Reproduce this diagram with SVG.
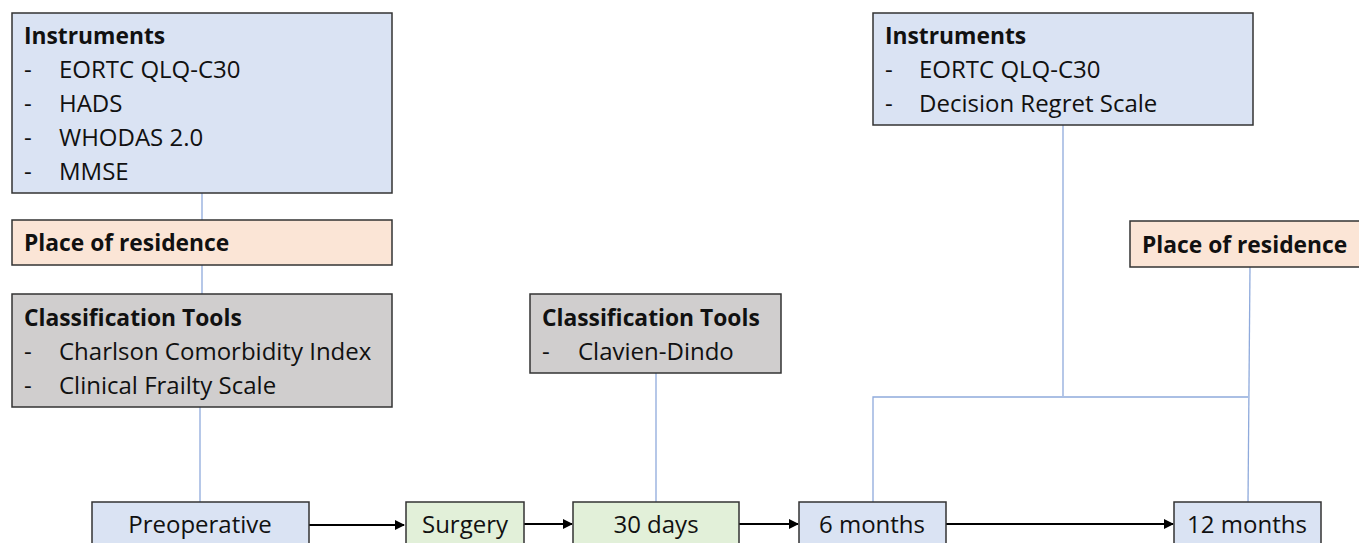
<svg xmlns="http://www.w3.org/2000/svg" width="1359" height="543" viewBox="0 0 1359 543">
<style>
.box{stroke:#333;stroke-width:1.5}
.blue{fill:#dae3f3}.peach{fill:#fbe5d6}.gray{fill:#d0cece}.green{fill:#e2f0d9}
text{font-family:"Open Sans","Liberation Sans",sans-serif;font-size:24px;fill:#111}
.b{font-weight:bold;font-size:22.8px}
.c{text-anchor:middle}
.link{stroke:#8faadc;stroke-width:1.3;fill:none}
.arr{stroke:#000;stroke-width:2;fill:none;marker-end:url(#ah)}
</style>
<defs>
<marker id="ah" viewBox="0 0 10 10" refX="9" refY="5" markerWidth="5" markerHeight="5" orient="auto" markerUnits="strokeWidth">
<path d="M0,0 L10,5 L0,10 z" fill="#000"/>
</marker>
</defs>
<rect width="1359" height="543" fill="#fff"/>
<g id="connectors">
<line class="link" x1="202" y1="193" x2="202" y2="220"/>
<line class="link" x1="202" y1="265" x2="202" y2="294"/>
<line class="link" x1="200" y1="407" x2="200" y2="502"/>
<line class="link" x1="656" y1="373" x2="656" y2="502"/>
<line class="link" x1="1063" y1="125" x2="1063" y2="396"/>
<polyline class="link" points="873,502 873,397 1248,397"/>
<line class="link" x1="1250" y1="267" x2="1248" y2="502"/>
<line class="arr" x1="309" y1="525" x2="404" y2="525"/>
<line class="arr" x1="524" y1="524" x2="572" y2="524"/>
<line class="arr" x1="739" y1="524" x2="798" y2="524"/>
<line class="arr" x1="946" y1="524" x2="1173" y2="524"/>
</g>
<g id="instruments-pre">
<rect class="box blue" x="12" y="13" width="380" height="180"/>
<text class="b" x="24" y="44">Instruments</text>
<text x="24" y="78">-</text><text x="59" y="78">EORTC QLQ-C30</text>
<text x="24" y="112">-</text><text x="59" y="112">HADS</text>
<text x="24" y="146">-</text><text x="59" y="146">WHODAS 2.0</text>
<text x="24" y="180">-</text><text x="59" y="180">MMSE</text>
</g>
<g id="residence-pre">
<rect class="box peach" x="12" y="220" width="380" height="45"/>
<text class="b" x="24" y="251">Place of residence</text>
</g>
<g id="classification-pre">
<rect class="box gray" x="12" y="294" width="380" height="113"/>
<text class="b" x="24" y="326">Classification Tools</text>
<text x="24" y="360">-</text><text x="59" y="360">Charlson Comorbidity Index</text>
<text x="24" y="394">-</text><text x="59" y="394">Clinical Frailty Scale</text>
</g>
<g id="classification-30">
<rect class="box gray" x="530" y="294" width="251" height="79"/>
<text class="b" x="542" y="326">Classification Tools</text>
<text x="542" y="360">-</text><text x="578" y="360">Clavien-Dindo</text>
</g>
<g id="instruments-post">
<rect class="box blue" x="873" y="13" width="380" height="112"/>
<text class="b" x="885" y="44">Instruments</text>
<text x="885" y="78">-</text><text x="919" y="78">EORTC QLQ-C30</text>
<text x="885" y="112">-</text><text x="919" y="112">Decision Regret Scale</text>
</g>
<g id="residence-post">
<rect class="box peach" x="1130" y="221" width="240" height="46"/>
<text class="b" x="1142" y="253">Place of residence</text>
</g>
<g id="preoperative">
<rect class="box blue" x="92" y="502" width="217" height="60"/>
<text class="c" x="200" y="533">Preoperative</text>
</g>
<g id="surgery">
<rect class="box green" x="406" y="502" width="118" height="60"/>
<text class="c" x="465" y="533">Surgery</text>
</g>
<g id="days30">
<rect class="box green" x="573" y="502" width="166" height="60"/>
<text class="c" x="656" y="533">30 days</text>
</g>
<g id="months6">
<rect class="box blue" x="799" y="502" width="147" height="60"/>
<text class="c" x="872" y="533">6 months</text>
</g>
<g id="months12">
<rect class="box blue" x="1174" y="502" width="147" height="60"/>
<text class="c" x="1247" y="533">12 months</text>
</g>
</svg>
